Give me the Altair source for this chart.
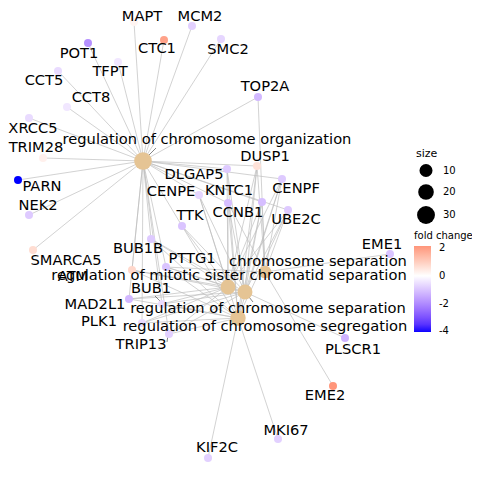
import altair as alt
import pandas as pd

# gene nodes: layout position, fold change and label position (reference pixel layout)
genes = ["MAPT", "MCM2", "CTC1", "SMC2", "POT1", "TFPT", "CCT5", "CCT8", "XRCC5",
         "TRIM28", "PARN", "NEK2", "TOP2A", "SMARCA5", "DUSP1", "DLGAP5", "CENPE",
         "KNTC1", "CENPF", "CCNB1", "UBE2C", "TTK", "BUB1B", "PTTG1", "ATM", "BUB1",
         "MAD2L1", "PLK1", "TRIP13", "EME1", "PLSCR1", "EME2", "MKI67", "KIF2C"]
gene_x = [134, 192, 164, 221, 88, 118, 58, 67, 29,
          43, 18, 29, 258, 33, 257, 227, 199,
          262, 282, 228, 288, 182, 151, 166, 132, 162,
          129, 142, 169, 390, 345, 333, 278, 208]
gene_y = [22, 26, 40, 39, 43, 62, 71, 107, 118,
          158, 180, 215, 97, 250, 166, 169, 195,
          202, 179, 203, 210, 226, 239, 267, 270, 304,
          299, 323, 334, 254, 338, 386, 439, 458]
fold_change = [0.2, -0.8, 1.9, -0.7, -1.9, -0.4, -0.6, -0.4, -0.6,
               0.3, -4.05, -0.9, -1.2, 0.7, 0.6, -0.9, -0.7,
               -1.1, -0.9, -1.1, -0.9, -1.0, -0.9, -1.0, 0.8, -0.6,
               -1.2, -0.6, -0.8, -1.0, -1.3, 2.15, -0.8, -0.8]
gene_label_x = [142, 200, 157, 228, 79, 110, 44, 91, 33,
                36, 42, 38, 265, 66, 265, 194, 171,
                229, 296, 238, 296, 190, 138, 192, 73, 151,
                95, 99, 141, 382, 353, 325, 286, 217]
gene_label_y = [17, 17, 49, 50, 54, 72, 81, 98, 129,
                148, 187, 206, 87, 261, 157, 175, 192,
                191, 189, 213, 220, 216, 249, 259, 277, 289,
                305, 322, 345, 245, 350, 396, 431, 448]

# category nodes
terms = ["regulation of chromosome organization",
         "regulation of mitotic sister chromatid separation",
         "regulation of chromosome separation",
         "regulation of chromosome segregation",
         "chromosome separation"]
term_x = [143, 228, 245, 238, 265]
term_y = [161, 287, 292, 318, 272]
term_count = [29, 17, 17, 19, 9]
term_label_x = [207, 229, 268, 265, 318]
term_label_y = [140, 276, 309, 327, 262]

mitotic = ["DLGAP5", "CENPE", "TTK", "CCNB1", "KNTC1", "CENPF", "UBE2C", "DUSP1",
           "BUB1B", "PTTG1", "ATM", "BUB1", "MAD2L1", "PLK1", "TRIP13"]
term_genes = [
    ["MAPT", "MCM2", "CTC1", "SMC2", "POT1", "TFPT", "CCT5", "CCT8", "XRCC5",
     "TRIM28", "PARN", "NEK2", "SMARCA5", "TOP2A"] + mitotic,
    mitotic,
    mitotic + ["PLSCR1"],
    mitotic + ["MKI67", "KIF2C"],
    ["TOP2A", "EME1", "EME2", "CCNB1", "KNTC1", "UBE2C", "PTTG1", "DUSP1", "CENPF"],
]

# short label leader lines (node -> label)
leader_x = [143, 245, 155, 168]
leader_y = [161, 292, 296, 335]
leader_x2 = [156, 253, 162, 167]
leader_y2 = [148, 302, 303, 342]

size_ticks = [10, 20, 30]
fc_ticks = [2, 0, -2, -4]

W, H = 464, 460

gene_df = pd.DataFrame({"gene": genes, "x": gene_x, "y": gene_y, "fc": fold_change,
                        "lx": gene_label_x, "ly": gene_label_y})
term_df = pd.DataFrame({"term": terms, "x": term_x, "y": term_y, "count": term_count,
                        "lx": term_label_x, "ly": term_label_y})
leader_df = pd.DataFrame({"x": leader_x, "y": leader_y, "x2": leader_x2, "y2": leader_y2})

pos = dict(zip(genes, zip(gene_x, gene_y)))
rows = []
for t, tx, ty, members in zip(terms, term_x, term_y, term_genes):
    for g in members:
        rows.append({"x": tx, "y": ty, "x2": pos[g][0], "y2": pos[g][1]})
edge_df = pd.DataFrame(rows)

xs = alt.Scale(domain=[8, 8 + W], nice=False, zero=False)
ys = alt.Scale(domain=[8, 8 + H], nice=False, zero=False, reverse=True)
size_scale = alt.Scale(domain=[0, 40], range=[95, 395])
font = "DejaVu Sans"

edges = alt.Chart(edge_df).mark_rule(color="#bebebe", strokeWidth=0.7).encode(
    x=alt.X("x:Q", scale=xs, axis=None),
    y=alt.Y("y:Q", scale=ys, axis=None),
    x2="x2:Q",
    y2="y2:Q",
)

leaders = alt.Chart(leader_df).mark_rule(color="#333333", strokeWidth=0.6).encode(
    x=alt.X("x:Q", scale=xs, axis=None),
    y=alt.Y("y:Q", scale=ys, axis=None),
    x2="x2:Q",
    y2="y2:Q",
)

term_nodes = alt.Chart(term_df).mark_circle(color="#E5C494", opacity=1).encode(
    x=alt.X("x:Q", scale=xs, axis=None),
    y=alt.Y("y:Q", scale=ys, axis=None),
    size=alt.Size("count:Q", scale=size_scale, legend=None),
)

# black key for the size legend only (no visible marks)
size_key = alt.Chart(pd.DataFrame({"count": size_ticks, "x": [0] * 3, "y": [0] * 3})).mark_circle(
    color="black", opacity=1
).encode(
    x=alt.X("x:Q", scale=xs, axis=None),
    y=alt.Y("y:Q", scale=ys, axis=None),
    size=alt.Size("count:Q", scale=size_scale,
                  legend=alt.Legend(title="size", values=size_ticks, orient="none",
                                    legendX=408, legendY=140,
                                    titleFontSize=11, labelFontSize=10,
                                    titleFontWeight="normal", titleFont=font,
                                    labelFont=font, rowPadding=0, titlePadding=4,
                                    labelOffset=7)),
).transform_filter("datum.count < 0")

gene_nodes = alt.Chart(gene_df).mark_circle(size=64, opacity=1).encode(
    x=alt.X("x:Q", scale=xs, axis=None),
    y=alt.Y("y:Q", scale=ys, axis=None),
    color=alt.Color("fc:Q",
                    scale=alt.Scale(domain=[-4.05, 0, 2.15],
                                    range=["#0000ff", "#ffffff", "#ff957a"],
                                    interpolate="lab"),
                    legend=alt.Legend(title="fold change", orient="none",
                                      legendX=406, legendY=223, gradientLength=86,
                                      gradientThickness=17, values=fc_ticks,
                                      labelExpr="datum.value < 0 ? '-' + abs(datum.value) : '' + datum.value",
                                      titleFontSize=10, labelFontSize=10, titleLimit=200,
                                      titleFontWeight="normal", titleFont=font,
                                      titlePadding=5, labelOffset=8, labelFont=font)),
)

gene_text = alt.Chart(gene_df).mark_text(fontSize=14.67, font=font, color="black").encode(
    x=alt.X("lx:Q", scale=xs, axis=None),
    y=alt.Y("ly:Q", scale=ys, axis=None),
    text="gene:N",
)

term_text = alt.Chart(term_df).mark_text(fontSize=14.67, font=font, color="black").encode(
    x=alt.X("lx:Q", scale=xs, axis=None),
    y=alt.Y("ly:Q", scale=ys, axis=None),
    text="term:N",
)

chart = alt.layer(edges, leaders, term_nodes, size_key, gene_nodes, gene_text, term_text).resolve_legend(
    size="independent", color="independent"
).properties(
    width=W, height=H, padding=0, autosize="none"
).configure_view(stroke=None)

chart.save("out.html", embed_options={"renderer": "svg", "actions": False})
